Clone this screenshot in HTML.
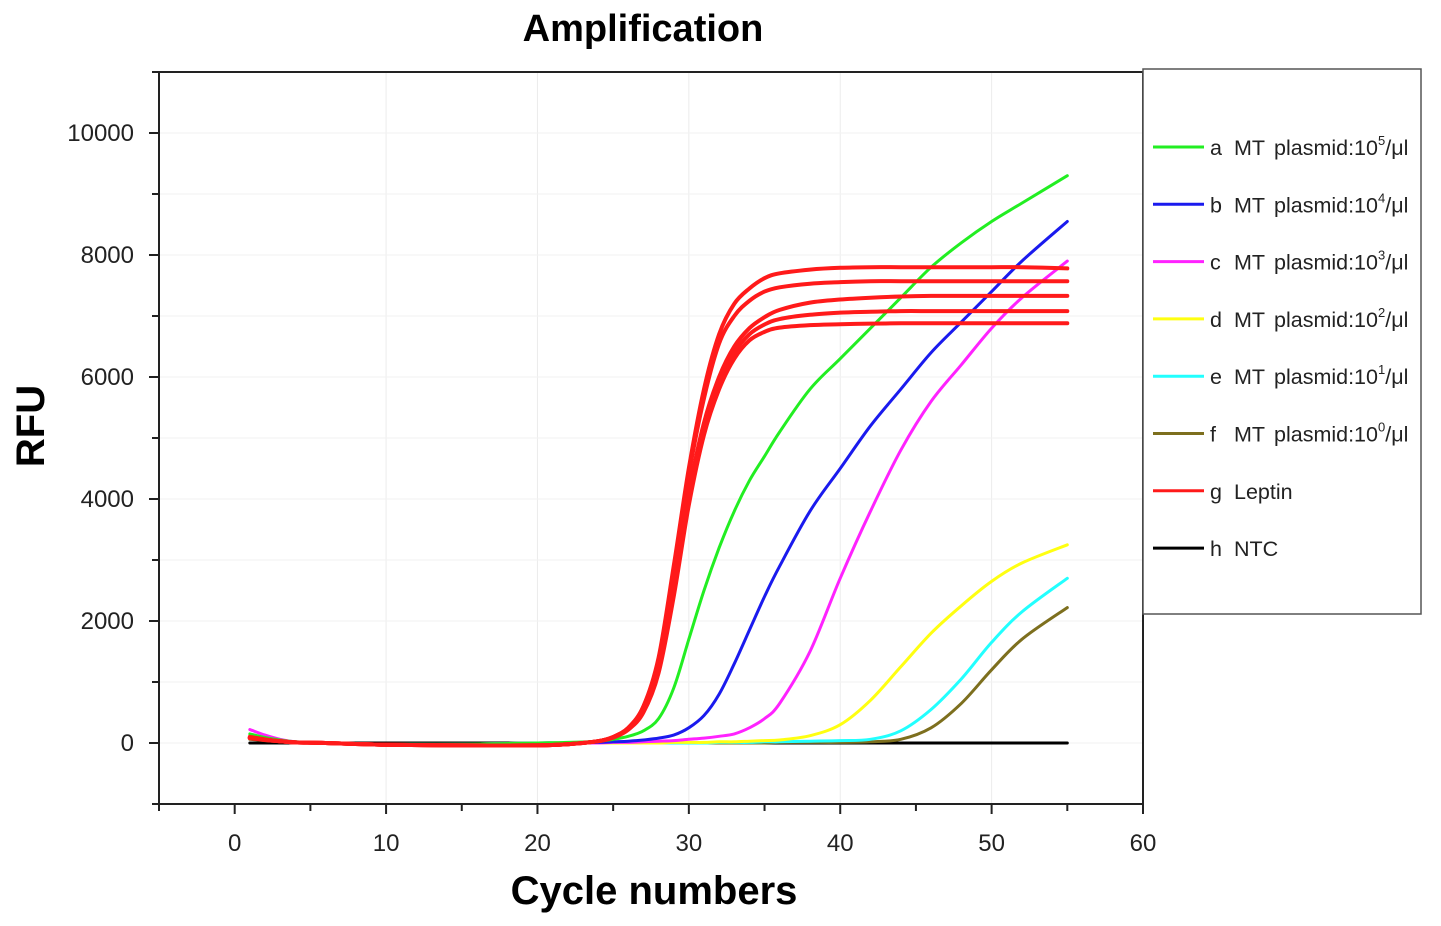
<!DOCTYPE html>
<html><head><meta charset="utf-8"><style>
body{margin:0;background:#fff;}
svg{display:block;font-family:"Liberation Sans",Arial,sans-serif;}
</style></head><body>
<svg id="chart" width="1441" height="926" viewBox="0 0 1441 926" xmlns="http://www.w3.org/2000/svg">
<text x="643" y="41" text-anchor="middle" font-size="38" font-weight="bold">Amplification</text>
<g id="grid"></g>
<g id="axes"></g>
<g id="series"></g>
<text x="654" y="904" text-anchor="middle" font-size="40" font-weight="bold">Cycle numbers</text>
<text transform="translate(44,426) rotate(-90)" text-anchor="middle" font-size="40" font-weight="bold">RFU</text>
<g id="legend"></g>
</svg>
<script>
const cycles=[1,2,3,4,6,10,15,20,22,24,25,26,27,28,29,30,31,32,33,34,35,36,38,40,42,44,46,48,50,52,55];
const seriesA=[150,90,50,20,0,-20,-20,0,10,30,60,110,200,400,900,1700,2500,3200,3800,4300,4700,5100,5800,6300,6800,7300,7800,8200,8550,8850,9300];
const seriesB=[80,50,30,10,0,-20,-20,0,0,10,20,30,50,80,130,250,450,800,1300,1850,2400,2900,3800,4500,5200,5800,6400,6900,7400,7900,8550];
const seriesC=[220,130,60,20,0,-30,-30,-10,0,0,10,10,20,30,40,60,80,110,150,250,400,650,1500,2700,3800,4800,5600,6200,6800,7300,7900];
const seriesD=[80,50,30,10,0,-20,-20,0,0,0,0,0,0,0,10,10,10,20,20,30,40,50,120,300,700,1250,1800,2250,2650,2950,3250];
const seriesE=[80,50,30,10,0,-20,-20,0,0,0,0,0,0,0,0,0,0,10,10,10,20,20,30,40,60,200,550,1050,1650,2150,2700];
const seriesF=[60,40,20,10,0,-20,-20,0,0,0,0,0,0,0,0,0,0,0,0,0,0,10,10,10,20,60,250,650,1200,1700,2220];
const seriesG1=[100,60,30,10,0,-30,-40,-40,-20,30,100,250,600,1400,2900,4500,5800,6700,7200,7450,7620,7700,7760,7790,7800,7800,7800,7800,7800,7800,7780];
const seriesG2=[90,55,30,10,0,-30,-40,-40,-20,30,100,250,600,1350,2800,4400,5650,6550,7000,7250,7400,7470,7530,7555,7570,7570,7570,7570,7570,7570,7570];
const seriesG3=[90,55,30,10,0,-30,-40,-40,-20,30,90,230,550,1250,2600,4100,5250,6000,6500,6800,6980,7100,7220,7270,7300,7320,7330,7330,7330,7330,7330];
const seriesG4=[80,50,30,10,0,-30,-40,-40,-20,30,90,220,520,1200,2500,4000,5150,5900,6400,6700,6860,6950,7020,7055,7070,7080,7080,7080,7080,7080,7080];
const seriesG5=[80,50,30,10,0,-30,-40,-40,-20,30,90,220,500,1150,2400,3900,5050,5800,6300,6600,6740,6810,6850,6865,6875,6880,6880,6880,6880,6880,6880];
const seriesH=[0,0,0,0,0,0,0,0,0,0,0,0,0,0,0,0,0,0,0,0,0,0,0,0,0,0,0,0,0,0,0];
const xTicks=[0,10,20,30,40,50,60];
const yTicks=[0,2000,4000,6000,8000,10000];
const legendLetters=["a","b","c","d","e","f","g","h"];
const legendNames=["MT","MT","MT","MT","MT","MT","Leptin","NTC"];
const legendExps=["5","4","3","2","1","0","",""];
const legendColors=["#22ee22","#1a1aee","#ff22ff","#ffff11","#22ffff","#7d6f1e","#ff1a1a","#000000"];

const NS="http://www.w3.org/2000/svg";
const X0=159,X1=1143,Y0=72,Y1=804,xmin=-5,xmax=60,ymin=-1000,ymax=11000;
const sx=v=>X0+(v-xmin)/(xmax-xmin)*(X1-X0);
const sy=v=>Y1-(v-ymin)/(ymax-ymin)*(Y1-Y0);
function mk(tag,attrs,parent){const e=document.createElementNS(NS,tag);for(const k in attrs)e.setAttribute(k,attrs[k]);parent.appendChild(e);return e;}
const grid=document.getElementById('grid'),axes=document.getElementById('axes'),ser=document.getElementById('series'),leg=document.getElementById('legend');
for(const t of xTicks){if(t>0&&t<60){const l=mk('line',{x1:sx(t),x2:sx(t),y1:Y0,y2:Y1,stroke:'#ececec','stroke-width':1},grid);}}
for(let v=0;v<11000;v+=1000){const l=mk('line',{x1:X0,x2:X1,y1:sy(v),y2:sy(v),stroke:'#f2f2f2','stroke-width':1},grid);}
const frame=mk('rect',{x:X0,y:Y0,width:X1-X0,height:Y1-Y0,fill:'none',stroke:'#222','stroke-width':2},axes);

for(let t=-5;t<=60;t+=5){const major=t%10===0;mk('line',{x1:sx(t),x2:sx(t),y1:Y1,y2:Y1+(major?10:7),stroke:'#222','stroke-width':2},axes);}
for(const t of xTicks){const tx=mk('text',{x:sx(t),y:Y1+47,'text-anchor':'middle','font-size':24,fill:'#222'},axes);tx.textContent=t;}
for(let v=-1000;v<=11000;v+=1000){const major=v%2000===0;mk('line',{x1:X0,x2:X0-(major?10:7),y1:sy(v),y2:sy(v),stroke:'#222','stroke-width':2},axes);}
for(const v of yTicks){const tx=mk('text',{x:134,y:sy(v)+8,'text-anchor':'end','font-size':24,fill:'#222'},axes);tx.textContent=v;}
function draw(vals,color,name){
 const P=cycles.map((c,i)=>[sx(c),sy(vals[i])]);
 let d='M'+P[0][0].toFixed(1)+','+P[0][1].toFixed(1);
 for(let i=0;i<P.length-1;i++){const p0=P[i-1]||P[i],p1=P[i],p2=P[i+1],p3=P[i+2]||P[i+1];
  const c1=[p1[0]+(p2[0]-p0[0])/6,p1[1]+(p2[1]-p0[1])/6],c2=[p2[0]-(p3[0]-p1[0])/6,p2[1]-(p3[1]-p1[1])/6];
  d+=' C'+c1[0].toFixed(1)+','+c1[1].toFixed(1)+' '+c2[0].toFixed(1)+','+c2[1].toFixed(1)+' '+p2[0].toFixed(1)+','+p2[1].toFixed(1);}
 const p=mk('path',{d:d,fill:'none',stroke:color,'stroke-width':name.startsWith('leptin')?4:3,'stroke-linejoin':'round','stroke-linecap':'round'},ser);
 
 }
draw(seriesH,'#000','series-h-ntc');
draw(seriesF,legendColors[5],'series-f');
draw(seriesE,legendColors[4],'series-e');
draw(seriesD,legendColors[3],'series-d');
draw(seriesC,legendColors[2],'series-c');
draw(seriesB,legendColors[1],'series-b');
draw(seriesA,legendColors[0],'series-a');
draw(seriesG1,legendColors[6],'leptin-1');
draw(seriesG2,legendColors[6],'leptin-2');
draw(seriesG3,legendColors[6],'leptin-3');
draw(seriesG4,legendColors[6],'leptin-4');
draw(seriesG5,legendColors[6],'leptin-5');
const box=mk('rect',{x:1143,y:69,width:278,height:545,fill:'#fff',stroke:'#555','stroke-width':1.5},leg);

legendLetters.forEach((lt,i)=>{const y=147+i*57.3;
 const g=mk('g',{},leg);
 
 
 mk('line',{x1:1153,x2:1204,y1:y,y2:y,stroke:legendColors[i],'stroke-width':3},g);
 const a=mk('text',{x:1210,y:y+8,'font-size':21.5,fill:'#222'},g);a.textContent=lt;
 const b=mk('text',{x:1234,y:y+8,'font-size':21.5,fill:'#222'},g);b.textContent=legendNames[i];
 if(legendExps[i]!==''){
  const c=mk('text',{x:1274,y:y+8,'font-size':21.5,fill:'#222'},g);
  c.innerHTML='plasmid:10<tspan font-size="13" dy="-10">'+legendExps[i]+'</tspan><tspan dy="10">/μl</tspan>';}
});
</script>
</body></html>
